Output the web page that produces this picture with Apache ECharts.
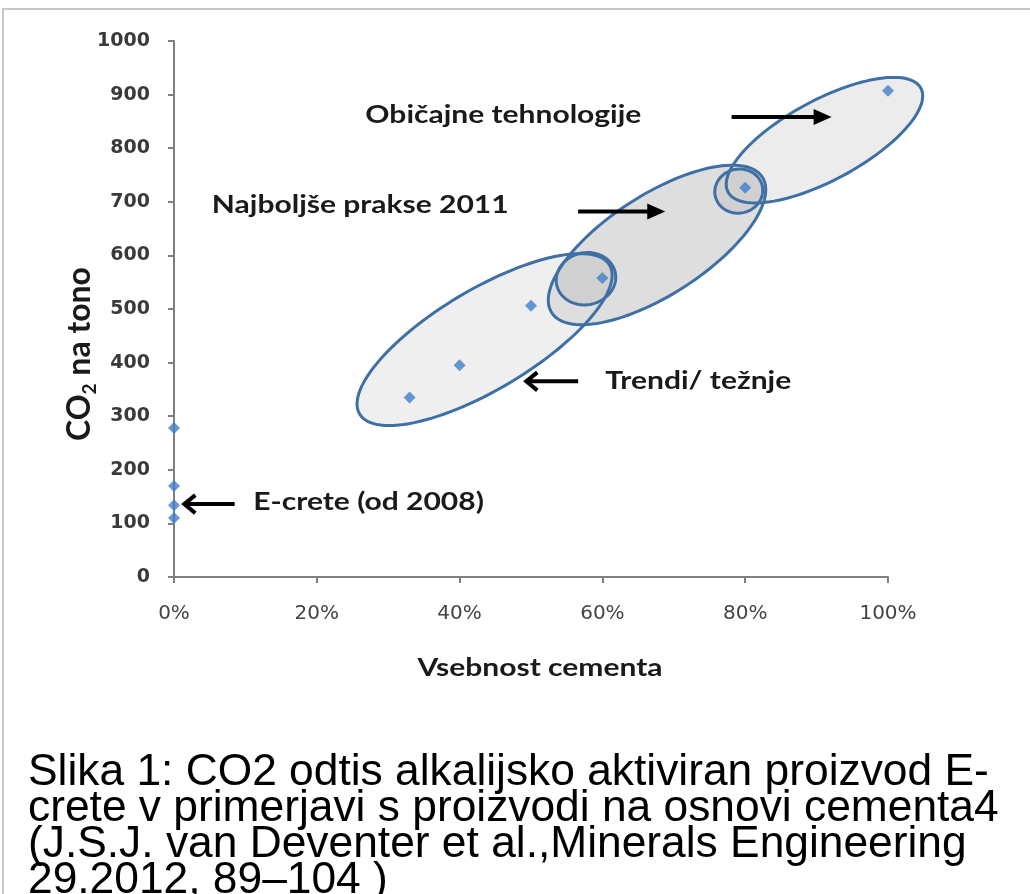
<!DOCTYPE html>
<html>
<head>
<meta charset="utf-8">
<script src="https://cdn.jsdelivr.net/npm/echarts@6/dist/echarts.min.js"></script>
<style>
html,body{margin:0;padding:0;background:#fff;}
#chart{width:1030px;height:894px;}
</style>
</head>
<body>
<div id="chart"></div>
<script>
// ---- data ----
const cementShare = [0, 0, 0, 0, 33, 40, 50, 60, 80, 100];          // % cement
const co2PerTon   = [278, 170, 134, 110, 335, 395, 506, 558, 726, 907];
const xTicks = [0, 20, 40, 60, 80, 100];
const yTicks = [0, 100, 200, 300, 400, 500, 600, 700, 800, 900, 1000];

// group outlines: major-axis ends in data units [x1, y1, x2, y2]
const groupTrendi     = [26.0, 304, 61.0, 582];
const groupNajboljse  = [52.9, 493, 82.4, 746];
const groupObicajne   = [77.6, 718, 104.6, 912];
const overlap60       = [53.6, 545, 61.8, 568];
const overlap80       = [75.8, 711, 82.4, 729];

// arrows [x tail, y tail, x head, y head] in data units
const arrowEcrete   = [8.5, 136, 1.3, 136];
const arrowTrendi   = [56.6, 365, 49.2, 365];
const arrowNajbolj  = [56.6, 682, 68.8, 682];
const arrowObicajne = [78.1, 858, 92.1, 858];

// annotation labels [x, y, text]
const labelObicajne  = [26.8, 862, 'Običajne tehnologije'];
const labelNajbolj   = [5.3, 694, 'Najboljše prakse 2011'];
const labelEcrete    = [11.1, 140, 'E-crete (od 2008)'];
const labelTrendi    = [60.4, 366, 'Trendi/ težnje'];

const xTitle = 'Vsebnost cementa';
const yTitle = 'CO{s|2} na tono';
const captionLines = [
  'Slika 1: CO2 odtis alkalijsko aktiviran proizvod E-',
  'crete v primerjavi s proizvodi na osnovi cementa4',
  '(J.S.J. van Deventer et al.,Minerals Engineering',
  '29.2012, 89–104 )'
];

// ---- chart ----
const shapes = [groupTrendi, groupNajboljse, groupObicajne, overlap60, overlap80];
const halfWidths = [50, 50, 40, 26, 22];
const fills = ['#efefef', '#dedede', '#ececec', '#d0d0d0', '#d0d0d0'];

function ellipsePoints(api, d, b) {
  const p1 = api.coord([d[0], d[1]]);
  const p2 = api.coord([d[2], d[3]]);
  const cx = (p1[0] + p2[0]) / 2, cy = (p1[1] + p2[1]) / 2;
  const a = Math.hypot(p2[0] - p1[0], p2[1] - p1[1]) / 2;
  const ang = Math.atan2(p2[1] - p1[1], p2[0] - p1[0]);
  const ca = Math.cos(ang), sa = Math.sin(ang);
  const pts = [];
  for (let i = 0; i < 120; i++) {
    const t = i / 120 * Math.PI * 2;
    const ex = a * Math.cos(t), ey = b * Math.sin(t);
    pts.push([cx + ex * ca - ey * sa, cy + ex * sa + ey * ca]);
  }
  return pts;
}

const arrows = [arrowEcrete, arrowTrendi, arrowNajbolj, arrowObicajne];
const labels = [labelObicajne, labelNajbolj, labelEcrete, labelTrendi];

const captionGraphics = captionLines.map((line, i) => ({
  type: 'text', x: 28, y: 756 + i * 36, scaleX: 0.985,
  style: {text: line, align: 'left', verticalAlign: 'top',
          font: '45px "Liberation Sans"', lineHeight: 34, fill: '#000'}
}));

const chart = echarts.init(document.getElementById('chart'), null, {renderer: 'canvas'});

const option = {
  backgroundColor: '#ffffff',
  animation: false,
  grid: {left: 174, right: 142, top: 41, bottom: 317, containLabel: false},
  xAxis: {
    type: 'value', min: xTicks[0], max: xTicks[xTicks.length - 1], interval: 20,
    axisLine: {show: true, lineStyle: {color: '#7f7f7f', width: 2}},
    axisTick: {show: true, length: 6, lineStyle: {color: '#7f7f7f', width: 2}},
    splitLine: {show: false},
    axisLabel: {formatter: '{value}%', margin: 27, color: '#444', fontFamily: 'DejaVu Sans', fontSize: 20}
  },
  yAxis: {
    type: 'value', min: yTicks[0], max: yTicks[yTicks.length - 1], interval: 100,
    axisLine: {show: true, lineStyle: {color: '#7f7f7f', width: 2}},
    axisTick: {show: true, length: 6, lineStyle: {color: '#7f7f7f', width: 2}},
    splitLine: {show: false},
    axisLabel: {margin: 24, color: '#3a3a3a', fontFamily: 'DejaVu Sans', fontWeight: 'bold', fontSize: 19,
                formatter: function (v) { return String(v); }}
  },
  graphic: [
    {type: 'rect', z: -10, shape: {x: 3, y: 9, width: 1200, height: 1000},
     style: {fill: 'none', stroke: '#c8c8c8', lineWidth: 2}},
    {type: 'text', x: 80, y: 354, rotation: Math.PI / 2,
     style: {text: yTitle, align: 'center', verticalAlign: 'middle',
       fontFamily: 'Lato', fontWeight: 'bold', fontSize: 32, fill: '#1a1a1a',
       rich: {s: {fontSize: 19, fontWeight: 'bold', fontFamily: 'Lato', fill: '#1a1a1a', padding: [20, 0, 0, 0]}}}},
    {type: 'text', x: 540, y: 668, scaleX: 1.2,
     style: {text: xTitle, align: 'center', verticalAlign: 'middle', font: 'bold 25px "Lato"', fill: '#1a1a1a'}}
  ].concat(captionGraphics),
  series: [
    {
      type: 'custom', name: 'fills', clip: false, z: 1,
      data: shapes.map((s, i) => s.concat([i])),
      renderItem: function (params, api) {
        const i = params.dataIndex;
        const d = [api.value(0), api.value(1), api.value(2), api.value(3)];
        return {type: 'polygon', shape: {points: ellipsePoints(api, d, halfWidths[i])},
                style: {fill: fills[i], stroke: null}};
      }
    },
    {
      type: 'custom', name: 'outlines', clip: false, z: 2,
      data: shapes.map((s, i) => s.concat([i])),
      renderItem: function (params, api) {
        const i = params.dataIndex;
        const d = [api.value(0), api.value(1), api.value(2), api.value(3)];
        return {type: 'polygon', shape: {points: ellipsePoints(api, d, halfWidths[i])},
                style: {fill: 'none', stroke: '#3f70a5', lineWidth: 3}};
      }
    },
    {
      type: 'scatter', z: 5,
      data: cementShare.map((x, i) => [x, co2PerTon[i]]),
      symbol: 'diamond', symbolSize: 12,
      itemStyle: {color: '#3f7fc9'}
    },
    {
      type: 'custom', name: 'arrows', clip: false, z: 6,
      data: arrows,
      renderItem: function (params, api) {
        const t = api.coord([api.value(0), api.value(1)]);
        const h = api.coord([api.value(2), api.value(3)]);
        const dir = Math.sign(h[0] - t[0]);
        const children = [];
        if (dir < 0) {
          children.push({type: 'line', shape: {x1: t[0], y1: t[1], x2: h[0] + 2, y2: h[1]},
            style: {stroke: '#000', lineWidth: 4}});
          children.push({type: 'polyline', shape: {points: [[h[0] + 12, h[1] - 9], [h[0] + 1, h[1]], [h[0] + 12, h[1] + 9]]},
            style: {stroke: '#000', lineWidth: 4, fill: 'none', lineJoin: 'miter'}});
        } else {
          children.push({type: 'line', shape: {x1: t[0], y1: t[1], x2: h[0] - 14, y2: h[1]},
            style: {stroke: '#000', lineWidth: 4}});
          children.push({type: 'polygon', shape: {points: [[h[0] - 18, h[1] - 8], [h[0], h[1]], [h[0] - 18, h[1] + 8]]},
            style: {fill: '#000'}});
        }
        return {type: 'group', children: children};
      }
    },
    {
      type: 'custom', name: 'labels', clip: false, z: 7,
      data: labels.map(l => [l[0], l[1]]),
      renderItem: function (params, api) {
        const p = api.coord([api.value(0), api.value(1)]);
        return {type: 'text', x: p[0], y: p[1], scaleX: 1.2,
          style: {text: labels[params.dataIndex][2], align: 'left', verticalAlign: 'middle',
                  font: 'bold 25px "Lato"', fill: '#1a1a1a'}};
      }
    }
  ]
};
chart.setOption(option);
</script>
</body>
</html>
